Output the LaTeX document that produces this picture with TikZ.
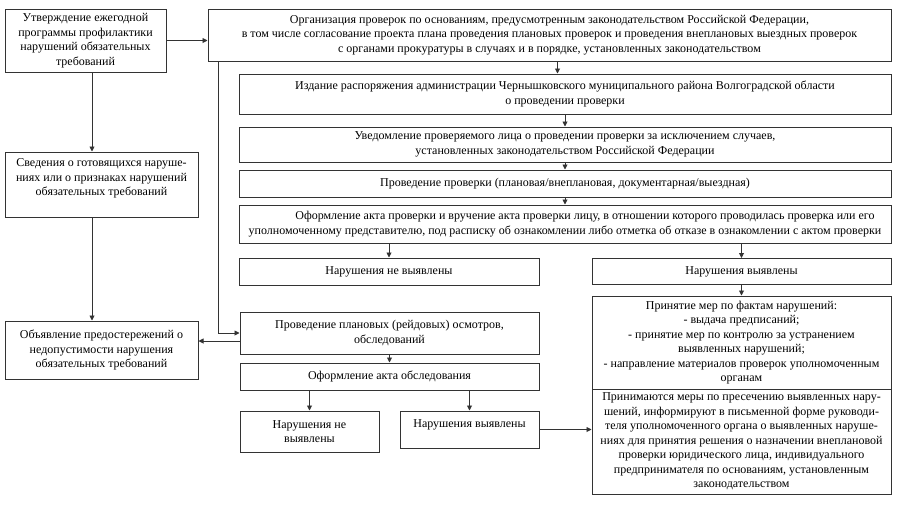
\documentclass[tikz,border=0pt]{standalone}
\usepackage{fontspec}
\setmainfont{Liberation Serif}
\usetikzlibrary{arrows.meta,positioning}
\definecolor{ink}{HTML}{333333}
\tikzset{box/.style={draw=ink,line width=1pt,align=center,inner sep=0pt,font=\fontsize{12}{14.5}\selectfont}, arr/.style={-{Triangle[length=5pt,width=5pt]},line width=0.9pt,draw=ink}}
\begin{document}
\begin{tikzpicture}[x=1pt,y=-1pt]
\useasboundingbox (0,0) rectangle (900,504);
\node[box,minimum width=161,minimum height=63](prog)at(85.5,40.5){Утверждение ежегодной\\программы профилактики\\нарушений обязательных\\требований};
\node[box,minimum width=193,minimum height=65](info)at(101.5,184.5){Сведения о готовящихся наруше-\\ниях или о признаках нарушений\\обязательных требований\\\mbox{}};
\node[box,minimum width=193,minimum height=58](warn)at(101.5,350){Объявление предостережений о\\недопустимости нарушения\\обязательных требований};
\node[box,minimum width=683,minimum height=52](org)at(549.5,35){Организация проверок по основаниям, предусмотренным законодательством Российской Федерации,\\в том числе согласование проекта плана проведения плановых проверок и проведения внеплановых выездных проверок\\с органами прокуратуры в случаях и в порядке, установленных законодательством};
\node[box,minimum width=652,minimum height=40](order)at(565,94){Издание распоряжения администрации Чернышковского муниципального района Волгоградской области\\о проведении проверки};
\node[box,minimum width=652,minimum height=35](notice)at(565,144.5){Уведомление проверяемого лица о проведении проверки за исключением случаев,\\установленных законодательством Российской Федерации};
\node[box,minimum width=652,minimum height=27](check)at(565,183.5){Проведение проверки (плановая/внеплановая, документарная/выездная)};
\node[box,minimum width=652,minimum height=38](act)at(565,224){\hspace*{40pt}Оформление акта проверки и вручение акта проверки лицу, в отношении которого проводилась проверка или его\\уполномоченному представителю, под расписку об ознакомлении либо отметка об отказе в ознакомлении с актом проверки};
\node[box,minimum width=300,minimum height=27](nofound)at(389,271.5){Нарушения не выявлены};
\node[box,minimum width=299,minimum height=26](found)at(741.5,271.5){Нарушения выявлены};
\node[box,minimum width=299,minimum height=93](measures)at(741.5,342.5){Принятие мер по фактам нарушений:\\- выдача предписаний;\\- принятие мер по контролю за устранением\\выявленных нарушений;\\- направление материалов проверок уполномоченным\\органам};
\node[box,minimum width=299,minimum height=105](suppress)at(741.5,441.5){Принимаются меры по пресечению выявленных нару-\\шений, информируют в письменной форме руководи-\\теля уполномоченного органа о выявленных наруше-\\ниях для принятия решения о назначении внеплановой\\проверки юридического лица, индивидуального\\предпринимателя по основаниям, установленным\\законодательством};
\node[box,minimum width=299,minimum height=42](raid)at(389.5,333){Проведение плановых (рейдовых) осмотров,\\обследований};
\node[box,minimum width=299,minimum height=27](survey)at(389.5,376.5){Оформление акта обследования};
\node[box,minimum width=139,minimum height=41](snone)at(309.5,431.5){Нарушения не\\выявлены};
\node[box,minimum width=139,minimum height=37](sfound)at(469.5,429.5){Нарушения выявлены\\[-3pt]\mbox{}};
\draw[arr](prog.east)--(prog.east-|org.west);\draw[arr]([xshift=6.5pt]prog.south)--([xshift=6.5pt]prog.south|-info.north);\draw[arr]([xshift=-9.5pt]info.south)--([xshift=-9.5pt]info.south|-warn.north);
\draw[arr]([xshift=8pt]org.south)--([xshift=8pt]org.south|-order.north);\draw[arr](order)--(notice);\draw[arr](notice)--(check);\draw[arr](check)--(act);
\draw[arr](act.south-|nofound.north)--(nofound);\draw[arr](act.south-|found.north)--(found);\draw[arr](found)--(measures);
\draw[arr]([xshift=11pt]org.south west)|-(raid.west);\draw[arr]([yshift=-8pt]raid.west)--([yshift=-8pt]raid.west-|warn.east);
\draw[arr](raid)--(survey);\draw[arr](survey.south-|snone.north)--(snone);\draw[arr](survey.south-|sfound.north)--(sfound);\draw[arr](sfound.east)--(sfound.east-|suppress.west);
\end{tikzpicture}
\end{document}
